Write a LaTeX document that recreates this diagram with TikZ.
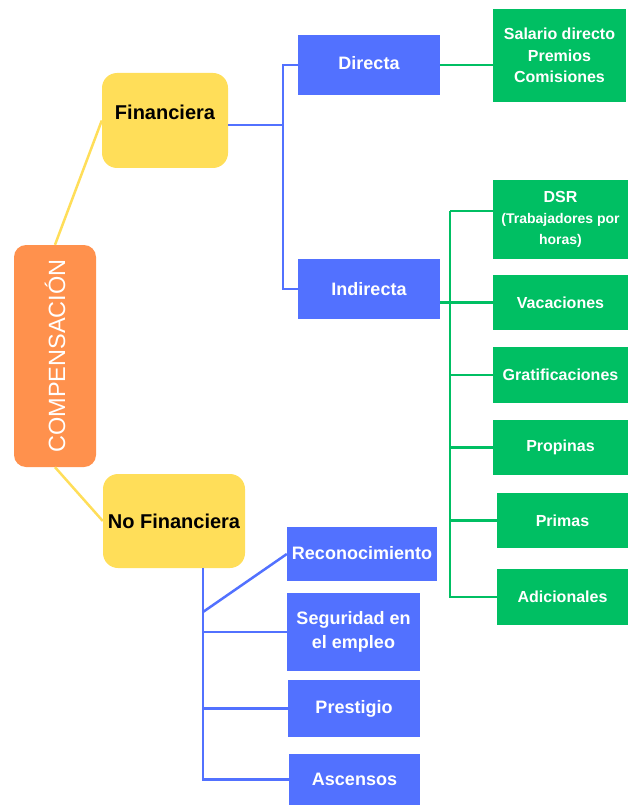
\documentclass[tikz,border=0pt]{standalone}
\usepackage{fontspec}
\setmainfont{Liberation Sans}
\definecolor{cblue}{HTML}{5271FF}
\definecolor{cgreen}{HTML}{00BF63}
\definecolor{cyellow}{HTML}{FFDE59}
\definecolor{corange}{HTML}{FF914D}
\newcommand{\smallfs}{\fontsize{14}{19}\selectfont}
\tikzset{
  box/.style={inner sep=0pt,align=center},
  bluebox/.style={box,fill=cblue,text=white,font=\fontsize{18}{24}\selectfont\bfseries},
  greenbox/.style={box,fill=cgreen,text=white,font=\fontsize{16}{21.5}\selectfont\bfseries},
  yellowbox/.style={box,fill=cyellow,rounded corners=15pt,font=\fontsize{20}{24}\selectfont\bfseries},
  bline/.style={draw=cblue,line width=2.5pt},
  gline/.style={draw=cgreen,line width=2.5pt},
  yline/.style={draw=cyellow,line width=2.5pt},
}
\begin{document}
\begin{tikzpicture}[x=1pt,y=-1pt]
\useasboundingbox (0,0) rectangle (628,805);
% root
\node[box,fill=corange,rounded corners=12pt,text=white,minimum width=82pt,minimum height=222pt,
  font=\fontsize{23.5}{24}\selectfont] (comp) at (55,356) {\rotatebox{90}{COMPENSACIÓN}};
\node[yellowbox,minimum width=126pt,minimum height=95pt] (fin) at (165,120.5) {\raisebox{17pt}{Financiera}};
\node[yellowbox,minimum width=142pt,minimum height=94pt] (nofin) at (174,521) {No Financiera};
% financiera
\node[bluebox,minimum width=142pt,minimum height=60pt] (directa) at (369,65) {\raisebox{5pt}{Directa}};
\node[bluebox,minimum width=142pt,minimum height=60pt] (indirecta) at (369,289) {Indirecta};
\node[greenbox,minimum width=133pt,minimum height=93pt] (salario) at (559.5,55.5) {Salario directo\\Premios\\Comisiones};
\node[greenbox,minimum width=135pt,minimum height=79pt] (dsr) at (560.5,219.5)
  {DSR\\[-1pt]{\smallfs(Trabajadores por}\\{\smallfs horas)}};
\node[greenbox,minimum width=135pt,minimum height=55pt] (vacaciones) at (560.5,302.5) {Vacaciones};
\node[greenbox,minimum width=135pt,minimum height=56pt] (gratif) at (560.5,375) {Gratificaciones};
\node[greenbox,minimum width=135pt,minimum height=55pt] (propinas) at (560.5,447.5) {Propinas};
\node[greenbox,minimum width=131pt,minimum height=55pt] (primas) at (562.5,520.5) {Primas};
\node[greenbox,minimum width=131pt,minimum height=56pt] (adicionales) at (562.5,597) {Adicionales};
% no financiera
\node[bluebox,minimum width=150pt,minimum height=54pt] (reconoc) at (362,554) {\raisebox{2pt}{Reconocimiento}};
\node[bluebox,minimum width=133pt,minimum height=78pt] (seguridad) at (353.5,632) {\raisebox{4pt}{\begin{tabular}{@{}c@{}}Seguridad en\\el empleo\end{tabular}}};
\node[bluebox,minimum width=132pt,minimum height=57pt] (prestigio) at (354,708.5) {Prestigio};
\node[bluebox,minimum width=131pt,minimum height=51pt] (ascensos) at (354.5,779.5) {Ascensos};
% split points
\coordinate (fsplit) at (283,125);
\coordinate (gtop) at (450,211);
\coordinate (nsplit) at (203,568);
\coordinate (ndiag) at (203,612);
% connectors
\draw[yline] (comp.north) -- (fin.west);
\draw[yline] (comp.south) -- (nofin.west);
\draw[bline] (fin.east |- fsplit) -- (fsplit);
\draw[bline] (directa.west) -| (fsplit) |- (indirecta.west);
\draw[gline] (directa.east) -- (directa.east -| salario.west);
\draw[gline] (gtop) -- (gtop -| dsr.west);
\draw[gline] (indirecta.east |- vacaciones.west) -- (vacaciones.west);
\foreach \n in {vacaciones,gratif,propinas,primas,adicionales}
  \draw[gline] (\n.west) -| (gtop);
\draw[bline] (ndiag) -- (reconoc.west);
\foreach \n in {seguridad,prestigio,ascensos}
  \draw[bline] (nsplit) |- (\n.west);
\end{tikzpicture}
\end{document}
